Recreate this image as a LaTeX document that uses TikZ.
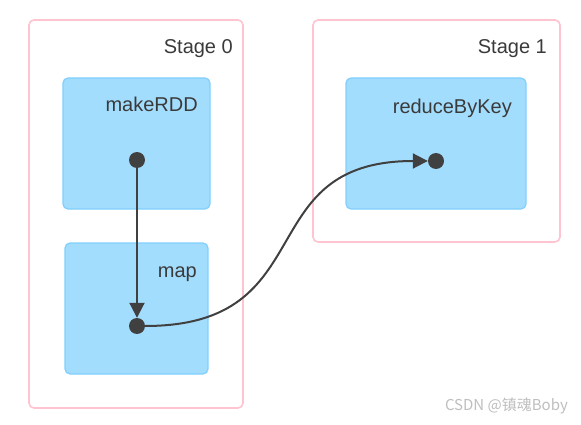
\documentclass[tikz,border=0pt]{standalone}
\usepackage{fontspec}
\setmainfont{Liberation Sans}
\newfontfamily\cjk{Noto Sans CJK SC}
\usetikzlibrary{arrows.meta}
\definecolor{stagepink}{RGB}{255, 196, 208}
\definecolor{taskfill}{RGB}{163, 221, 253}
\definecolor{taskline}{RGB}{128, 207, 255}
\definecolor{dotgray}{RGB}{64, 64, 64}
\definecolor{labelgray}{RGB}{58, 58, 58}
\definecolor{markgray}{RGB}{190, 190, 190}

\begin{document}
\begin{tikzpicture}[x = 1pt, y = -1pt,
	stage/.style = {draw = stagepink, line width = 1.6pt, rounded corners = 5pt, inner sep = 0pt},
	task/.style = {draw = taskline, fill = taskfill, line width = 1.2pt, rounded corners = 5pt, inner sep = 0pt},
	tag/.style = {anchor = base east, text = labelgray, font = \fontsize{20}{24}\selectfont, inner sep = 0pt},
	dot/.style = {circle, fill = dotgray, inner sep = 0pt, minimum size = 16pt},
	flow/.style = {draw = dotgray, line width = 2pt, -{Triangle[length = 15pt, width = 15pt]}}]
			\useasboundingbox (0,0) rectangle (581,425);
			\node (s0) at (136,214) [stage, minimum width = 214pt, minimum height = 388pt] {};
			\node (s1) at (436.5,131) [stage, minimum width = 247pt, minimum height = 222pt] {};
			\node (t0) at (233,54) [tag] {Stage 0};
			\node (t1) at (547,54) [tag] {Stage 1};
			\node (rdd) at (136.5,143.5) [task, minimum width = 147pt, minimum height = 131pt] {};
			\node (map) at (136.5,308.5) [task, minimum width = 143pt, minimum height = 131pt] {};
			\node (red) at (436,143.5) [task, minimum width = 180pt, minimum height = 131pt] {};
			\node (lrdd) at (198,112) [tag] {makeRDD};
			\node (lmap) at (197,277) [tag] {map};
			\node (lred) at (512,114) [tag] {reduceByKey};
			\node (a) at (137,160) [dot] {};
			\node (b) at (137,326) [dot] {};
			\node (c) at (436,161) [dot] {};
			\draw[flow] (a) -- (b);
			\draw[flow] (b) to[out = 0, in = 180, looseness = 1.4] (c);
			\node (wm) at (568,406) [anchor = east, text = markgray, font = \cjk\fontsize{15}{18}\selectfont, inner sep = 0pt] {CSDN @镇魂Boby};
			\end{tikzpicture}
\end{document}
